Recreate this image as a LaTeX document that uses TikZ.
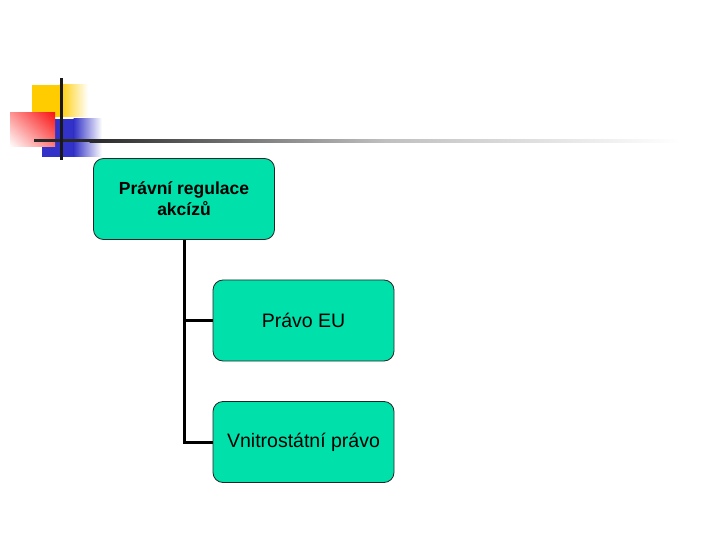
\documentclass[tikz,border=0pt]{standalone}
\usepackage{fontspec}
\setmainfont{Liberation Sans}
\usepackage{xcolor}
\usepackage{tikz}
\usetikzlibrary{positioning,shadings}
\definecolor{BoxGreen}{RGB}{0,224,170}
\definecolor{DecoYellow}{RGB}{255,204,0}
\definecolor{DecoRed}{RGB}{250,20,20}
\definecolor{DecoBlue}{RGB}{50,50,200}
\definecolor{RuleDark}{RGB}{40,40,40}
\tikzset{
    orgbox/.style={rectangle, rounded corners=10bp, draw=black!85, fill=BoxGreen, line width=0.8bp, minimum width=181bp, minimum height=81bp, align=center, inner sep=2bp},
    edge/.style={draw=black, line width=3bp}
}

\begin{document}
\begin{tikzpicture}[x=1bp, y=-1bp]
                \useasboundingbox (0,0) rectangle (720,540);

                % corner ornament
                \fill[DecoYellow] (32,85) rectangle (60,117);
                \shade[left color=DecoYellow, right color=white] (59.5,85) rectangle (88,117);
                \fill[DecoBlue] (42,119) rectangle (74,157);
                \shade[left color=DecoBlue, right color=white] (73.5,119) rectangle (102,157);
                \shade[upper right=DecoRed, upper left=DecoRed!45, lower right=DecoRed!55, lower left=white] (10,113) rectangle (55,147);
                \fill[RuleDark] (34,139.5) rectangle (90,142.5);
                \shade[left color=RuleDark, right color=white, middle color=black!25] (89.5,139.5) rectangle (680,142.5);
                \draw[black!90, line width=3bp] (61,78) -- (61,160);

                % chart
                \node[orgbox, font=\fontsize{17.5bp}{21bp}\selectfont\bfseries] (root) at (184,199) {Právní regulace\\akcízů};
                \node[orgbox, font=\fontsize{19.5bp}{23bp}\selectfont] (eu) at (303.5,320.5) {Právo EU};
                \node[orgbox, font=\fontsize{19.5bp}{23bp}\selectfont] (nat) at (303.5,442) {Vnitrostátní právo};

                \draw[edge] (root) |- (eu);
                \draw[edge] (root) |- (nat);
            \end{tikzpicture}
\end{document}
